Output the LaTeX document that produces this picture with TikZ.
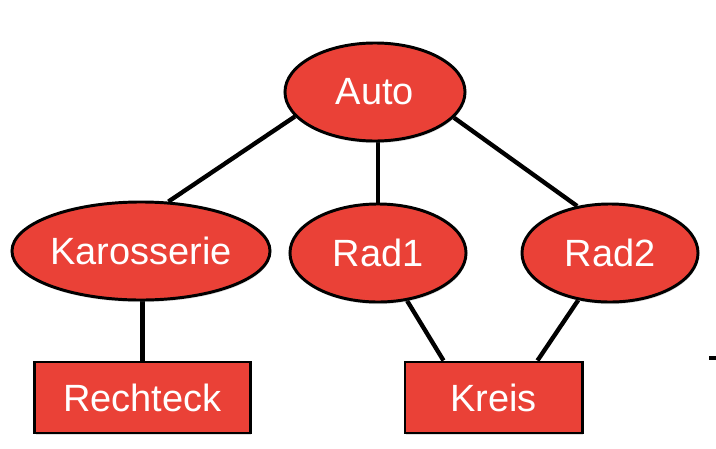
\documentclass[tikz,border=0pt]{standalone}
\usepackage{fontspec}
\setmainfont{Liberation Sans}
\usepackage{xcolor}
\usepackage{tikz}
\usetikzlibrary{shapes,positioning,calc,shadows,backgrounds}

\definecolor{objred}{RGB}{234,65,55}

\tikzset{
    objnode/.style={fill=objred, draw=black, line width=2.1pt, text=white, inner sep=0pt,
        font=\fontsize{27}{30}\selectfont,
        drop shadow={shadow xshift=0.5pt, shadow yshift=-1.5pt, opacity=0.25}},
    objell/.style={objnode, ellipse, minimum height=2.45cm},
    objbox/.style={objnode, rectangle, minimum height=1.775cm},
    link/.style={line width=3.1pt}
}

\begin{document}
\begin{tikzpicture}[x=0.025cm, y=-0.025cm]
        \useasboundingbox (0,0) rectangle (716,448);
        \node[objell, minimum width=4.5cm] (Auto) at (375,92) {Auto};
        \node[objell, minimum width=6.45cm] (Karosserie) at (141,251) {Karosserie};
        \node[objell, minimum width=4.4cm] (Rad1) at (378,253) {Rad1};
        \node[objell, minimum width=4.4cm] (Rad2) at (610,253) {Rad2};
        \node[objbox, minimum width=5.375cm] (Rechteck) at (142.5,397.5) {Rechteck};
        \node[objbox, minimum width=4.425cm] (Kreis) at (493.5,397.5) {Kreis};
        \begin{scope}[on background layer]
            \draw[link] (Auto.197) -- (Karosserie.61);
            \draw[link] (Rad1 |- Auto) -- (Rad1);
            \draw[link] (Auto.342) -- (Rad2.125);
            \draw[link] (Karosserie.south -| Rechteck) -- (Rechteck);
            \draw[link] (Rad1) -- ($(Kreis.north)+(-50,0)$);
            \draw[link] (Rad2) -- ($(Kreis.north)+(44,0)$);
        \end{scope}
        \fill (709,356) rectangle (716,360);
    \end{tikzpicture}
\end{document}
